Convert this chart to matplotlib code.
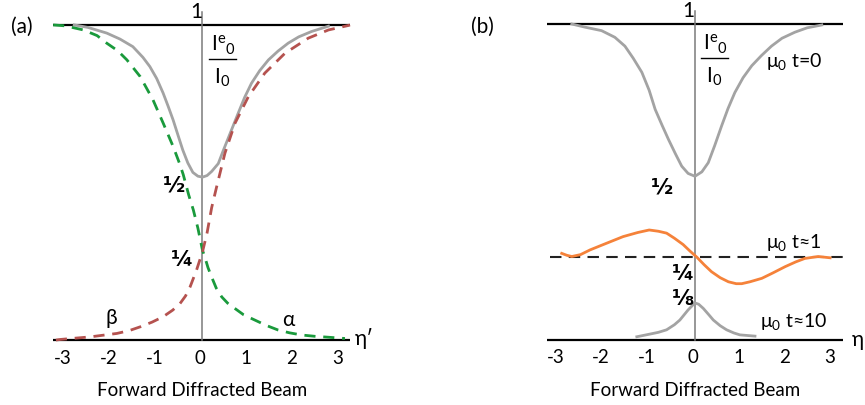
import matplotlib
matplotlib.use("Agg")
import matplotlib.pyplot as plt

plt.rcParams['font.family'] = ['Lato', 'DejaVu Sans']

# ---- data ----
ticks = [-3, -2, -1, 0, 1, 2, 3]
tick_labels = ['-3', '-2', '-1', '0', '1', '2', '3']

# panel (a)
eta_a_gray = [-2.8, -2.5, -2.09, -1.8, -1.52, -1.3, -1.15, -1.0, -0.86, -0.75, -0.64, -0.53,
              -0.43, -0.32, -0.21, -0.1, 0.0, 0.1, 0.2, 0.345, 0.45, 0.56, 0.67, 0.78, 0.92,
              1.07, 1.25, 1.44, 1.65, 1.87, 2.1, 2.38, 2.75]
val_a_gray = [1.0, 0.992, 0.974, 0.955, 0.931, 0.897, 0.868, 0.83, 0.784, 0.742, 0.698, 0.648,
              0.603, 0.562, 0.532, 0.52, 0.517, 0.522, 0.535, 0.56, 0.6, 0.64, 0.68, 0.72, 0.77,
              0.815, 0.855, 0.889, 0.917, 0.942, 0.962, 0.979, 0.996]

eta_alpha = [-3.26, -3.0, -2.6, -2.3, -2.09, -1.85, -1.65, -1.36, -1.08, -0.86, -0.64, -0.5,
             -0.42, -0.3, -0.2, -0.1, 0.0, 0.05, 0.12, 0.2, 0.3, 0.42, 0.55, 0.71, 0.9, 1.15,
             1.4, 1.65, 1.9, 2.17, 2.45, 2.75, 3.11]
val_alpha = [1.0, 0.997, 0.984, 0.966, 0.942, 0.918, 0.889, 0.836, 0.762, 0.689, 0.614, 0.56,
             0.525, 0.46, 0.413, 0.355, 0.285, 0.264, 0.23, 0.2, 0.165, 0.137, 0.117, 0.10, 0.08,
             0.063, 0.046, 0.032, 0.023, 0.016, 0.012, 0.009, 0.005]

eta_beta = [-3.2, -3.1, -2.46, -1.87, -1.6, -1.36, -1.1, -0.86, -0.65, -0.49, -0.37, -0.27,
            -0.13, 0.0, 0.1, 0.2, 0.31, 0.49, 0.71, 1.0, 1.36, 1.8, 2.31, 2.75, 3.18, 3.22]
val_beta = [0.0, 0.002, 0.01, 0.021, 0.03, 0.042, 0.057, 0.074, 0.095, 0.116, 0.14, 0.169,
            0.222, 0.28, 0.34, 0.42, 0.487, 0.593, 0.688, 0.772, 0.847, 0.91, 0.958, 0.984,
            0.998, 1.0]

# panel (b)
eta_t0 = [-2.69, -2.4, -2.04, -1.75, -1.53, -1.35, -1.16, -1.0, -0.87, -0.72, -0.58, -0.43,
          -0.29, -0.15, 0.0, 0.15, 0.29, 0.43, 0.58, 0.72, 0.87, 1.05, 1.24, 1.45, 1.67, 1.9,
          2.18, 2.45, 2.77]
val_t0 = [1.0, 0.99, 0.979, 0.958, 0.93, 0.892, 0.847, 0.79, 0.73, 0.68, 0.635, 0.59,
          0.55, 0.527, 0.518, 0.532, 0.561, 0.615, 0.677, 0.732, 0.783, 0.83, 0.868, 0.9, 0.93,
          0.955, 0.974, 0.988, 0.997]

eta_t1 = [-2.91, -2.8, -2.69, -2.5, -2.29, -2.0, -1.57, -1.25, -1.0, -0.8, -0.62, -0.45, -0.26,
          -0.1, 0.04, 0.2, 0.36, 0.55, 0.73, 0.9, 1.02, 1.2, 1.46, 1.7, 1.97, 2.2, 2.4, 2.69, 2.95]
val_t1 = [0.274, 0.268, 0.264, 0.27, 0.285, 0.302, 0.327, 0.34, 0.348, 0.344, 0.338, 0.322, 0.302,
          0.28, 0.262, 0.238, 0.216, 0.197, 0.184, 0.178, 0.178, 0.184, 0.195, 0.212, 0.232, 0.247,
          0.258, 0.264, 0.26]

eta_t10 = [-1.27, -1.0, -0.8, -0.62, -0.45, -0.33, -0.15, -0.05, 0.0, 0.08, 0.18, 0.3, 0.4,
           0.55, 0.69, 0.85, 0.98, 1.31]
val_t10 = [0.01, 0.018, 0.024, 0.032, 0.048, 0.063, 0.095, 0.11, 0.117, 0.113, 0.1, 0.08, 0.063,
           0.045, 0.032, 0.022, 0.016, 0.012]

quarter_level = 0.264

GRAY = '#a3a3a3'
GREEN = '#1a9a3c'
RED = '#b5524f'
ORANGE = '#f5823a'
FRAC = dict(ha='center', va='center', fontsize=15.5, fontweight='bold', family='DejaVu Sans')

fig = plt.figure(figsize=(8.65, 4.05), dpi=100)
ax_a = fig.add_axes([0, 0, 432 / 865, 1])
ax_b = fig.add_axes([432 / 865, 0, 433 / 865, 1])
ax_a.set_xlim(-4.42, 5.01)
ax_a.set_ylim(-0.206, 1.079)
ax_b.set_xlim(-5.742, 3.712)
ax_b.set_ylim(-0.206, 1.076)


def frame(ax, x_lo, x_hi):
    ax.axis('off')
    ax.plot([x_lo, x_hi], [1, 1], color='black', lw=1.6, solid_capstyle='butt')
    ax.plot([x_lo, x_hi], [0, 0], color='black', lw=1.6, solid_capstyle='butt')
    ax.plot([0, 0], [0, 1.042], color='#7a7a7a', lw=1.1)
    for t, lab in zip(ticks, tick_labels):
        ax.text(t - 0.05, -0.057, lab, ha='center', va='center', fontsize=13.5)
    ax.text(0, -0.16, 'Forward Diffracted Beam', ha='center', va='center', fontsize=13.5)
    ax.text(-0.14, 1.04, '1', ha='center', va='center', fontsize=15)
    # I^e_0 / I_0
    ax.text(0.45, 0.935, r'$\mathregular{I^{e}{}_{0}}$', ha='center', va='center', fontsize=15)
    ax.plot([0.14, 0.73], [0.892, 0.892], color='black', lw=1.0)
    ax.text(0.42, 0.832, r'$\mathregular{I_{0}}$', ha='center', va='center', fontsize=15)


# ---- panel (a) ----
frame(ax_a, -3.26, 3.22)
ax_a.plot(eta_a_gray, val_a_gray, color=GRAY, lw=2.0)
ax_a.plot(eta_alpha, val_alpha, color=GREEN, lw=2.0, dashes=(4, 2.8))
ax_a.plot(eta_beta, val_beta, color=RED, lw=2.0, dashes=(4, 2.8))
ax_a.text(-3.94, 0.994, '(a)', ha='center', va='center', fontsize=15)
ax_a.text(-0.62, 0.49, '½', **FRAC)
ax_a.text(-0.45, 0.254, '¼', **FRAC)
ax_a.text(-1.98, 0.069, 'β', ha='center', va='center', fontsize=15)
ax_a.text(1.87, 0.063, 'α', ha='center', va='center', fontsize=15)
ax_a.text(3.33, 0.006, 'η′', ha='left', va='center', fontsize=15)

# ---- panel (b) ----
frame(ax_b, -3.23, 3.23)
ax_b.plot([-3.17, 3.34], [quarter_level, quarter_level], color='#222222', lw=1.5,
          dashes=(5.5, 3.5))
ax_b.plot(eta_t0, val_t0, color=GRAY, lw=2.0)
ax_b.plot(eta_t1, val_t1, color=ORANGE, lw=2.0)
ax_b.plot(eta_t10, val_t10, color=GRAY, lw=2.0)
ax_b.text(-4.65, 0.99, '(b)', ha='center', va='center', fontsize=15)
ax_b.text(-0.72, 0.484, '½', **FRAC)
ax_b.text(-0.26, 0.21, '¼', **FRAC)
ax_b.text(-0.26, 0.13, '⅛', **FRAC)
ax_b.text(1.55, 0.88, r'$\mathregular{μ_{0}}$ t=0', ha='left', va='center', fontsize=14)
ax_b.text(1.55, 0.307, r'$\mathregular{μ_{0}}$ t≈1', ha='left', va='center', fontsize=14)
ax_b.text(1.42, 0.057, r'$\mathregular{μ_{0}}$ t≈10', ha='left', va='center', fontsize=14)
ax_b.text(3.43, 0.0, 'η′', ha='left', va='center', fontsize=15)

fig.savefig('out.png', dpi=100)
